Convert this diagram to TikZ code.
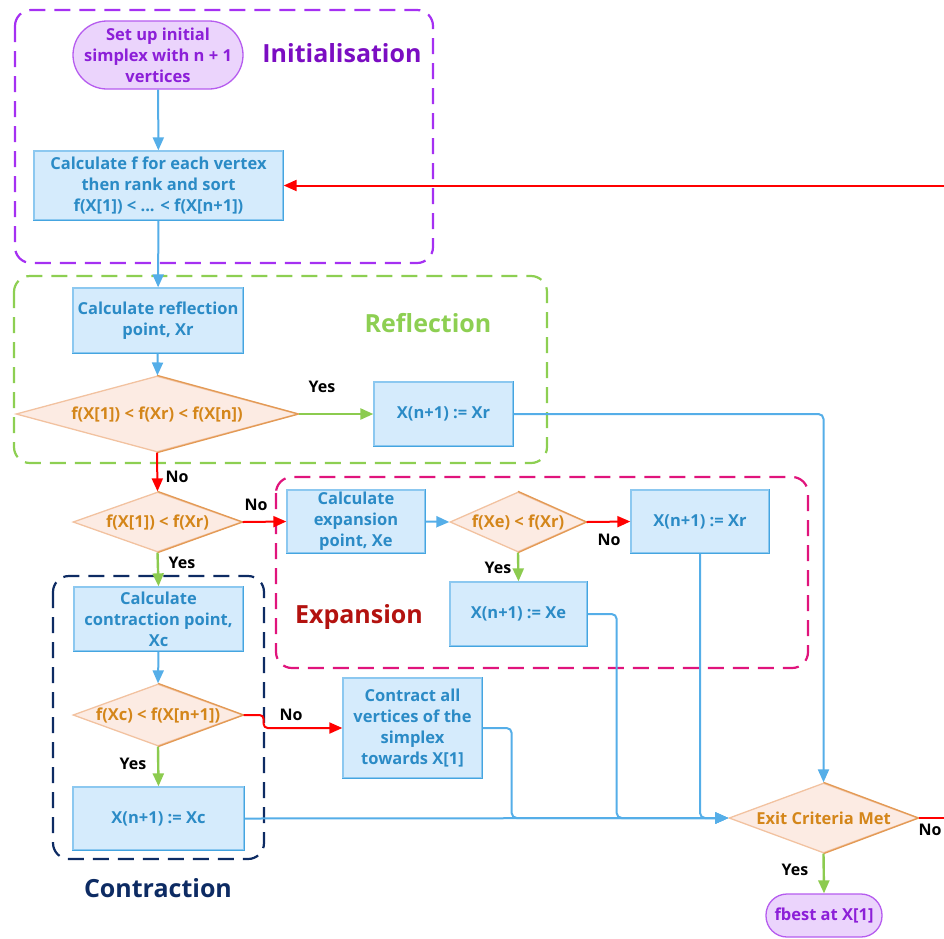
\documentclass[tikz,border=0pt]{standalone}
\usepackage{fontspec}
\setmainfont{Open Sans}
\usetikzlibrary{arrows.meta,shapes.geometric}

\definecolor{boxfill}{HTML}{D5EBFC}
\definecolor{boxedge}{HTML}{8CC8F0}
\definecolor{boxdark}{HTML}{45A5E0}
\definecolor{boxtext}{HTML}{2B8BC6}
\definecolor{diafill}{HTML}{FCEBE3}
\definecolor{diaedge}{HTML}{F2C2A0}
\definecolor{diadark}{HTML}{E39A55}
\definecolor{diatext}{HTML}{D4861A}
\definecolor{termfill}{HTML}{EBD4FC}
\definecolor{termedge}{HTML}{B65CEF}
\definecolor{termtext}{HTML}{8C1FD8}
\definecolor{flowblue}{HTML}{55AEE8}
\definecolor{flowgreen}{HTML}{8CCB4F}
\definecolor{flowred}{HTML}{FF0000}
\definecolor{initframe}{HTML}{A530F2}
\definecolor{inittext}{HTML}{7B0DC2}
\definecolor{reflgreen}{HTML}{8DCF52}
\definecolor{expframe}{HTML}{E0147C}
\definecolor{exptext}{HTML}{B3120F}
\definecolor{contrblue}{HTML}{0D2B63}

\begin{document}
\begin{tikzpicture}[x=1pt,y=-1pt,
  every node/.style={font=\fontsize{16.5}{21}\selectfont\bfseries, inner sep=0pt},
  procbox/.style={rectangle, fill=boxfill, draw=boxedge, line width=1.3pt,
    text=boxtext, align=center},
  decision/.style={diamond, fill=diafill, draw=diaedge, line width=1.3pt,
    text=diatext},
  terminal/.style={rectangle, fill=termfill, draw=termedge, line width=1.3pt,
    text=termtext, align=center},
  frame/.style={dashed, dash pattern=on 16pt off 9pt, line width=2.2pt, rounded corners=16pt},
  framelabel/.style={font=\fontsize{25}{30}\selectfont\bfseries},
  branch/.style={text=black, font=\fontsize{16}{20}\selectfont\bfseries},
  tip/.style={-{Triangle[length=13pt,width=11pt]}},
  blueflow/.style={draw=flowblue, line width=2pt},
  greenflow/.style={draw=flowgreen, line width=2.4pt, tip},
  redflow/.style={draw=flowred, line width=2pt, tip},
]
\useasboundingbox (0,0) rectangle (944,938);

% --- group frames ---
\draw[frame, initframe] (15,10) rectangle (433,263);
\draw[frame, reflgreen] (14,276) rectangle (547,463);
\draw[frame, expframe] (276,477) rectangle (808,668);
\draw[frame, contrblue] (53,576) rectangle (264,859);

\node[framelabel, text=inittext] (lblinit) at (342,53) {Initialisation};
\node[framelabel, text=reflgreen] (lblrefl) at (428,323) {Reflection};
\node[framelabel, text=exptext] (lblexp) at (359,617) {Expansion};
\node[framelabel, text=contrblue] (lblcontr) at (158,888) {Contraction};

% --- nodes ---
\node[terminal, minimum width=170pt, minimum height=68pt, rounded corners=34pt]
  (start) at (158,55) {Set up initial\\simplex with n + 1\\vertices};
\node[procbox, minimum width=249pt, minimum height=69pt]
  (rank) at (158.5,185.5) {Calculate f for each vertex\\then rank and sort\\f(X[1]) < ... < f(X[n+1])};
\node[procbox, minimum width=170pt, minimum height=65pt]
  (reflpt) at (158,320.5) {Calculate reflection\\point, Xr};
\node[decision, minimum width=282pt, minimum height=76pt]
  (d1) at (157,414) {\makebox[0pt]{f(X[1]) < f(Xr) < f(X[n])}};
\node[procbox, minimum width=139pt, minimum height=64pt]
  (accr) at (443.5,414) {X(n+1) := Xr};
\node[decision, minimum width=169pt, minimum height=60pt]
  (d2) at (157.5,522) {\makebox[0pt]{f(X[1]) < f(Xr)}};
\node[procbox, minimum width=138pt, minimum height=63pt]
  (exppt) at (356,521.5) {Calculate\\expansion\\point, Xe};
\node[decision, minimum width=136pt, minimum height=60pt]
  (d3) at (518,522) {\makebox[0pt]{f(Xe) < f(Xr)}};
\node[procbox, minimum width=138pt, minimum height=63pt]
  (accr2) at (700,521.5) {X(n+1) := Xr};
\node[procbox, minimum width=137pt, minimum height=64pt]
  (acce) at (518.5,614) {X(n+1) := Xe};
\node[procbox, minimum width=169pt, minimum height=64pt]
  (contpt) at (158.5,619) {Calculate\\contraction point,\\Xc};
\node[decision, minimum width=170pt, minimum height=62pt]
  (d4) at (158,715) {\makebox[0pt]{f(Xc) < f(X[n+1])}};
\node[procbox, minimum width=171pt, minimum height=63pt]
  (accc) at (158.5,818.5) {X(n+1) := Xc};
\node[procbox, minimum width=139pt, minimum height=100pt]
  (shrink) at (412.5,728) {Contract all\\vertices of the\\simplex\\towards X[1]};
\node[decision, minimum width=189pt, minimum height=70pt]
  (exit) at (823.5,818) {\makebox[0pt]{Exit Criteria Met}};
\node[terminal, minimum width=116pt, minimum height=43pt, rounded corners=21pt]
  (done) at (824,915.5) {fbest at X[1]};

% darker lower-right edges
\foreach \n in {rank,reflpt,accr,exppt,accr2,acce,contpt,accc,shrink}
  \draw[boxdark, line width=1.3pt] (\n.north east) -- (\n.south east) -- (\n.south west);
\foreach \n in {d1,d2,d3,d4,exit}
  \draw[diadark, line width=1.3pt] (\n.north) -- (\n.east) -- (\n.south);

% --- connectors ---
\draw[blueflow, tip] (start) -- (rank);
\draw[blueflow, tip] (rank) -- (reflpt);
\draw[blueflow, tip] (reflpt) -- (d1);
\draw[greenflow] (d1.east) -- (accr.west);
\draw[redflow] (d1.south) -- (d2.north);
\draw[redflow] (d2.east) -- (exppt.west);
\draw[blueflow, tip] (exppt.east) -- (d3.west);
\draw[redflow] (d3.east) -- (accr2.west);
\draw[greenflow] (d3.south) -- (acce.north);
\draw[greenflow] (d2.south) -- (contpt.north);
\draw[blueflow, tip] (contpt.south) -- (d4.north);
\draw[greenflow] (d4.south) -- (accc.north);
\draw[redflow, rounded corners=4pt] (d4.east) -- ++(20,0) |- (shrink.west);
\draw[blueflow, tip] (accc.east) -- (exit.west);
\draw[blueflow, tip, rounded corners=5pt] (shrink.east) -- ++(29,0) |- (exit.west);
\draw[blueflow, tip, rounded corners=5pt] (acce.east) -- ++(29,0) |- (exit.west);
\draw[blueflow, tip, rounded corners=5pt] (accr2.south) |- (exit.west);
\draw[blueflow, tip, rounded corners=5pt] (accr.east) -| (exit.north);
\draw[greenflow] (exit.south) -- (done.north);
\draw[redflow] (exit.east) -- ++(40,0) |- (rank.east);

% --- branch labels ---
\node[branch] (y1) at (322,387) {Yes};
\node[branch] (n1) at (177,477) {No};
\node[branch] (n2) at (256,505) {No};
\node[branch] (n3) at (609,540) {No};
\node[branch] (y3) at (498,568) {Yes};
\node[branch] (y2) at (182,563) {Yes};
\node[branch] (n4) at (291,715) {No};
\node[branch] (y4) at (133,764) {Yes};
\node[branch] (y5) at (795,870) {Yes};
\node[branch] (n5) at (930,830) {No};
\end{tikzpicture}
\end{document}
